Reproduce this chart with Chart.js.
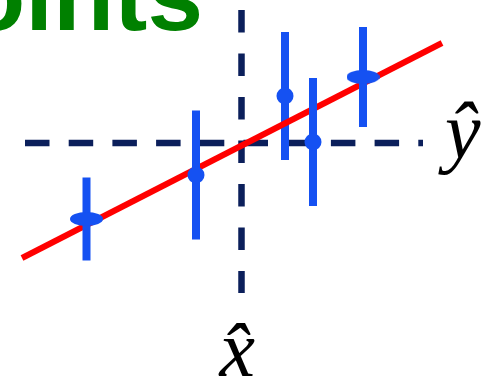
<!DOCTYPE html>
<html>
<head>
<meta charset="utf-8">
<script src="https://cdn.jsdelivr.net/npm/chart.js@4/dist/chart.umd.min.js"></script>
<style>
  html, body { margin: 0; padding: 0; background: #ffffff; }
  #wrap { width: 495px; height: 382px; }
</style>
</head>
<body>
<div id="wrap"><canvas id="fitChart"></canvas></div>
<script>
// deviations from the means (x̂, ŷ) with their vertical errors
const xVals = [-3.1, -0.91, 0.87, 1.43, 2.43];
const yVals = [-1.52, -0.64, 0.94, 0.02, 1.32];
const yErrs = [0.83, 1.29, 1.28, 1.28, 1.0];
const markerKinds = ['wide', 'round', 'round', 'round', 'wide'];

// fitted straight line, read at its two ends
const fitX = [-4.39, 4.01];
const fitY = [-2.3, 2.0];

// extent of the two dashed mean lines
const meanXSpan = [-4.33, 3.63];
const meanYSpan = [2.66, -3.0];

const BLUE = '#1551f2';
const NAVY = '#0b1f5b';
const RED = '#ff0000';

// flat ellipse used for the wide markers
function makeEllipse(w, h) {
    const c = document.createElement('canvas');
    c.width = w;
    c.height = h;
    const g = c.getContext('2d');
    g.fillStyle = BLUE;
    g.beginPath();
    g.ellipse(w / 2, h / 2, w / 2, h / 2, 0, 0, Math.PI * 2);
    g.fill();
    return c;
}
const ellipseImg = makeEllipse(33, 14);

const datasets = [];

// dashed mean lines
datasets.push({
    data: [{ x: meanXSpan[0], y: 0 }, { x: meanXSpan[1], y: 0 }],
    showLine: true,
    borderColor: NAVY, borderWidth: 6.5, borderDash: [24.5, 19.2],
    pointRadius: 0, order: 10
});
datasets.push({
    data: [{ x: 0, y: meanYSpan[0] }, { x: 0, y: meanYSpan[1] }],
    showLine: true,
    borderColor: NAVY, borderWidth: 6.5, borderDash: [22.5, 21],
    pointRadius: 0, order: 10
});

// fit line
datasets.push({
    data: fitX.map((x, i) => ({ x: x, y: fitY[i] })),
    showLine: true,
    borderColor: RED, borderWidth: 6, pointRadius: 0, order: 6
});

// error bars, one segment per point (the third one sits under the red line)
xVals.forEach((x, i) => {
    datasets.push({
        data: [{ x: x, y: yVals[i] - yErrs[i] }, { x: x, y: yVals[i] + yErrs[i] }],
        showLine: true,
        borderColor: BLUE, borderWidth: 8, pointRadius: 0,
        order: i === 2 ? 8 : 4
    });
});

// markers
datasets.push({
    data: xVals.map((x, i) => ({ x: x, y: yVals[i] })),
    showLine: false,
    backgroundColor: BLUE,
    borderWidth: 0,
    pointRadius: 8.5,
    pointStyle: markerKinds.map(k => k === 'wide' ? ellipseImg : 'circle'),
    order: 1
});

// title fragment and the hat labels
const labelsPlugin = {
    id: 'labels',
    afterDraw(chart) {
        const ctx = chart.ctx;
        const xs = chart.scales.x;
        const ys = chart.scales.y;
        ctx.save();
        ctx.fillStyle = '#008000';
        ctx.font = 'bold 100px "Liberation Sans", Arial, sans-serif';
        ctx.textAlign = 'right';
        ctx.textBaseline = 'alphabetic';
        ctx.fillText('Points', 203, 30);

        ctx.fillStyle = '#000000';
        ctx.font = 'italic 80px "Liberation Serif", "Times New Roman", serif';
        ctx.textAlign = 'left';
        ctx.fillText('ŷ', xs.getPixelForValue(meanXSpan[1]) + 22, ys.getPixelForValue(0) + 15);
        ctx.fillText('x\u0302', xs.getPixelForValue(0) - 22, 376);
        ctx.restore();
    }
};

new Chart(document.getElementById('fitChart'), {
    type: 'scatter',
    data: { datasets: datasets },
    options: {
        responsive: true,
        maintainAspectRatio: false,
        animation: false,
        events: [],
        layout: { padding: 0, autoPadding: false },
        elements: { line: { tension: 0, borderCapStyle: 'butt' } },
        scales: {
            x: { type: 'linear', display: false, min: -4.83, max: 5.07 },
            y: { type: 'linear', display: false, min: -4.78, max: 2.86 }
        },
        plugins: {
            legend: { display: false },
            tooltip: { enabled: false }
        }
    },
    plugins: [labelsPlugin]
});
</script>
</body>
</html>
